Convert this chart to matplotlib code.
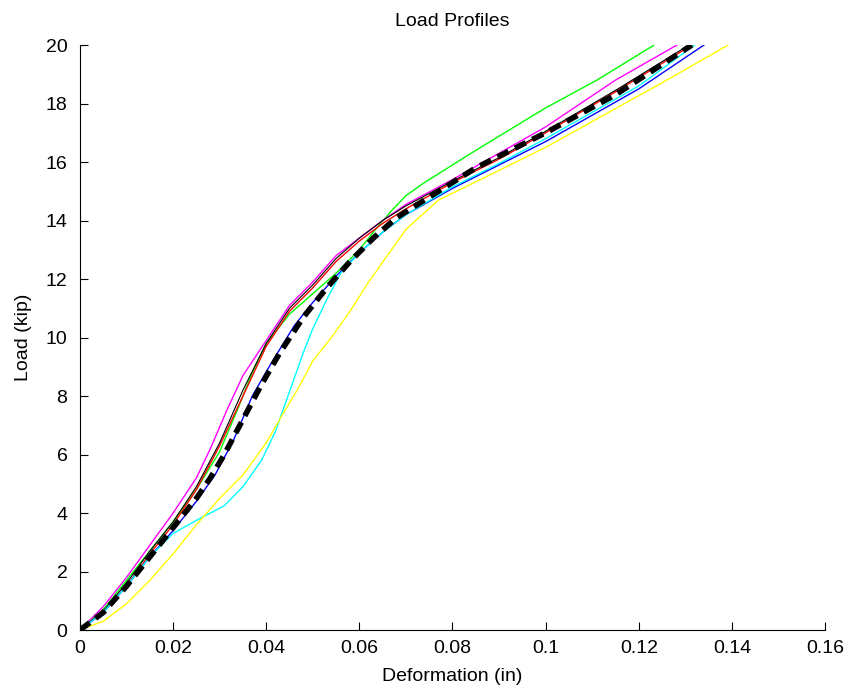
import numpy as np
import matplotlib.pyplot as plt

plt.rcParams['font.family'] = ['Liberation Sans', 'DejaVu Sans']

# load (kip) vs deformation (in) for each test
green_x = [0, 0.005, 0.01, 0.015, 0.02, 0.025, 0.03, 0.034, 0.037, 0.04, 0.045, 0.05, 0.055, 0.06, 0.064, 0.067, 0.07, 0.074, 0.079, 0.085, 0.1, 0.111, 0.1233]
green_y = [0, 0.7, 1.7, 2.7, 3.7, 4.8, 6.1, 7.6, 8.8, 9.8, 10.8, 11.5, 12.2, 13.0, 13.8, 14.35, 14.85, 15.3, 15.8, 16.4, 17.85, 18.8, 20]

magenta_x = [0, 0.005, 0.01, 0.015, 0.02, 0.025, 0.028, 0.0315, 0.035, 0.04, 0.045, 0.05, 0.055, 0.06, 0.065, 0.07, 0.08, 0.09, 0.1, 0.115, 0.1282]
magenta_y = [0, 0.8, 1.8, 2.9, 4.0, 5.2, 6.2, 7.5, 8.7, 9.9, 11.1, 11.9, 12.8, 13.4, 14.0, 14.55, 15.4, 16.3, 17.2, 18.8, 20]

red_x = [0, 0.005, 0.01, 0.015, 0.02, 0.025, 0.03, 0.035, 0.04, 0.045, 0.05, 0.055, 0.06, 0.065, 0.07, 0.08, 0.09, 0.1, 0.115, 0.1314]
red_y = [0, 0.6, 1.5, 2.6, 3.6, 4.8, 6.3, 8.0, 9.7, 10.9, 11.7, 12.6, 13.3, 13.9, 14.4, 15.3, 16.1, 17.0, 18.4, 20]

black_x = [0, 0.005, 0.01, 0.015, 0.02, 0.025, 0.03, 0.035, 0.04, 0.045, 0.05, 0.055, 0.06, 0.065, 0.07, 0.08, 0.09, 0.1, 0.115, 0.1308]
black_y = [0, 0.65, 1.6, 2.7, 3.7, 4.9, 6.4, 8.2, 9.8, 11.0, 11.8, 12.7, 13.4, 14.0, 14.5, 15.35, 16.15, 17.05, 18.45, 20]

blue_x = [0, 0.005, 0.01, 0.015, 0.02, 0.025, 0.029, 0.033, 0.037, 0.041, 0.046, 0.05, 0.055, 0.06, 0.065, 0.07, 0.08, 0.09, 0.1, 0.12, 0.134]
blue_y = [0, 0.6, 1.5, 2.5, 3.4, 4.4, 5.3, 6.5, 8.0, 9.1, 10.4, 11.2, 12.1, 12.9, 13.6, 14.2, 15.1, 15.9, 16.7, 18.5, 20]

cyan_x = [0, 0.005, 0.01, 0.015, 0.02, 0.025, 0.031, 0.035, 0.039, 0.042, 0.044, 0.046, 0.048, 0.05, 0.053, 0.056, 0.06, 0.065, 0.07, 0.08, 0.09, 0.1, 0.12, 0.132]
cyan_y = [0, 0.6, 1.5, 2.5, 3.3, 3.75, 4.25, 4.9, 5.8, 6.8, 7.7, 8.6, 9.5, 10.3, 11.3, 12.2, 12.9, 13.6, 14.2, 15.15, 15.95, 16.8, 18.6, 20]

yellow_x = [0, 0.005, 0.01, 0.015, 0.02, 0.025, 0.03, 0.035, 0.04, 0.044, 0.047, 0.05, 0.054, 0.058, 0.062, 0.066, 0.07, 0.077, 0.086, 0.1, 0.126, 0.1392]
yellow_y = [0, 0.3, 0.9, 1.7, 2.6, 3.6, 4.5, 5.3, 6.4, 7.5, 8.3, 9.2, 10.0, 10.9, 11.9, 12.8, 13.7, 14.7, 15.4, 16.5, 18.8, 20]

mean_x = [0, 0.005, 0.01, 0.015, 0.02, 0.025, 0.028, 0.031, 0.035, 0.039, 0.043, 0.048, 0.053, 0.058, 0.063, 0.068, 0.075, 0.085, 0.1, 0.115, 0.1314]
mean_y = [0, 0.6, 1.5, 2.5, 3.5, 4.5, 5.2, 6.0, 7.2, 8.4, 9.5, 10.7, 11.7, 12.6, 13.4, 14.1, 14.8, 15.8, 17.0, 18.3, 20]

x_ticks = [0, 0.02, 0.04, 0.06, 0.08, 0.1, 0.12, 0.14, 0.16]
x_labels = ['0', '0.02', '0.04', '0.06', '0.08', '0.1', '0.12', '0.14', '0.16']
y_ticks = [0, 2, 4, 6, 8, 10, 12, 14, 16, 18, 20]

fig = plt.figure(figsize=(8.48, 6.96), dpi=100)
ax = fig.add_axes([0.0943, 0.0948, 0.8786, 0.8405])

ax.plot(green_x, green_y, color='#00ff00', lw=1)
ax.plot(magenta_x, magenta_y, color='#ff00ff', lw=1)
ax.plot(red_x, red_y, color='#ff0000', lw=1)
ax.plot(black_x, black_y, color='black', lw=0.8)
ax.plot(blue_x, blue_y, color='#0000ff', lw=1)
ax.plot(cyan_x, cyan_y, color='#00ffff', lw=1)
ax.plot(yellow_x, yellow_y, color='#ffff00', lw=1)
ax.plot(mean_x, mean_y, color='black', lw=4, linestyle=(0, (2.2, 1.3)))

ax.set_xlim(0, 0.16)
ax.set_ylim(0, 20)
ax.set_xticks(x_ticks)
ax.set_xticklabels(x_labels)
ax.set_yticks(y_ticks)

ax.spines['top'].set_visible(False)
ax.spines['right'].set_visible(False)
ax.tick_params(direction='in', length=6, labelsize=14)
ax.tick_params(axis='x', pad=7)
ax.tick_params(axis='y', pad=9)

ax.set_title('Load Profiles', fontsize=14, pad=14)
ax.set_xlabel('Deformation (in)', fontsize=14, labelpad=8)
ax.set_ylabel('Load (kip)', fontsize=14, labelpad=10)

fig.savefig('out.png', dpi=100)
